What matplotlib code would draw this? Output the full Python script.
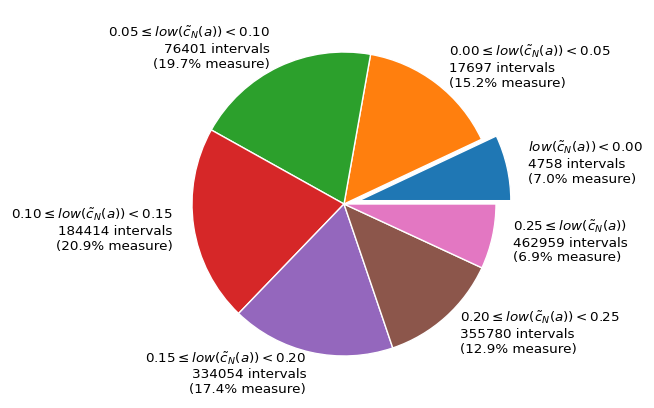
import matplotlib
matplotlib.use("Agg")
import matplotlib.pyplot as plt

ranges = [
    r"$low(\tilde{c}_N(a)) < 0.00$",
    r"$0.00 \leq low(\tilde{c}_N(a)) < 0.05$",
    r"$0.05 \leq low(\tilde{c}_N(a)) < 0.10$",
    r"$0.10 \leq low(\tilde{c}_N(a)) < 0.15$",
    r"$0.15 \leq low(\tilde{c}_N(a)) < 0.20$",
    r"$0.20 \leq low(\tilde{c}_N(a)) < 0.25$",
    r"$0.25 \leq low(\tilde{c}_N(a))$",
]
intervals = [4758, 17697, 76401, 184414, 334054, 355780, 462959]
measure = [7.0, 15.2, 19.7, 20.9, 17.4, 12.9, 6.9]
explode = [0.1, 0, 0, 0, 0, 0, 0]

labels = [f"{r}\n{n} intervals\n({m:.1f}% measure)"
          for r, n, m in zip(ranges, intervals, measure)]

fig = plt.figure(figsize=(6.54, 4.08), dpi=100)
ax = fig.add_axes([154/654, 14/408, 380/654, 380/408])
ax.pie(measure, labels=labels, explode=explode, labeldistance=1.14,
       wedgeprops=dict(edgecolor="white", linewidth=1),
       textprops=dict(fontsize=9.7, linespacing=1.18))
fig.savefig("out.png", dpi=100)
